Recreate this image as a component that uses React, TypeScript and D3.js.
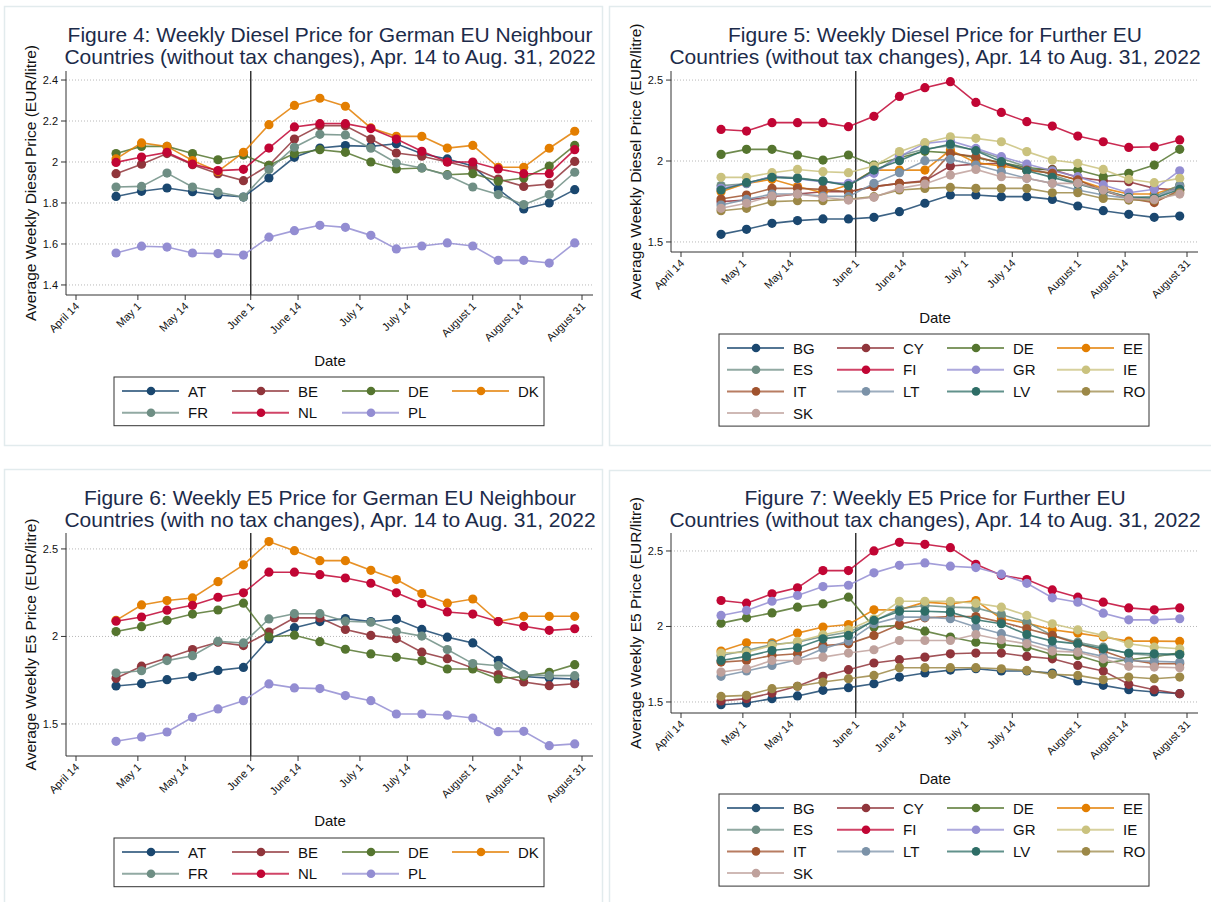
import React from "react"
import * as d3 from "d3"

const FONT = '"Liberation Sans", Arial, Helvetica, sans-serif'

// weekly observations (Mondays)
const weeks = ["2022-04-25", "2022-05-02", "2022-05-09", "2022-05-16", "2022-05-23", "2022-05-30",
    "2022-06-06", "2022-06-13", "2022-06-20", "2022-06-27", "2022-07-04", "2022-07-11", "2022-07-18",
    "2022-07-25", "2022-08-01", "2022-08-08", "2022-08-15", "2022-08-22", "2022-08-29"]

const tickDates = ["2022-04-14", "2022-05-01", "2022-05-14", "2022-06-01", "2022-06-14", "2022-07-01",
    "2022-07-14", "2022-08-01", "2022-08-14", "2022-08-31"]
const tickLabels = ["April 14", "May 1", "May 14", "June 1", "June 14", "July 1", "July 14",
    "August 1", "August 14", "August 31"]
const cutDate = "2022-06-01"

// Stata s2color palette
const palette = ["#1a476f", "#90353b", "#55752f", "#e37e00", "#6e8e84", "#c10534", "#938dd2",
    "#cac27e", "#a0522d", "#7b92a8", "#2d6d66", "#9c8847", "#bfa19c"]

const neighbourCodes = ["AT", "BE", "DE", "DK", "FR", "NL", "PL"]
const furtherCodes = ["BG", "CY", "DE", "EE", "ES", "FI", "GR", "IE", "IT", "LT", "LV", "RO", "SK"]

// Figure 4: diesel, neighbours
const dieselAT = [1.832, 1.857, 1.873, 1.855, 1.839, 1.829, 1.922, 2.023, 2.068, 2.080, 2.076, 2.089, 2.040, 2.015, 1.980, 1.868, 1.771, 1.800, 1.865]
const dieselBE = [1.943, 1.989, 2.041, 1.987, 1.943, 1.909, 1.984, 2.112, 2.177, 2.177, 2.112, 2.044, 2.028, 2.000, 1.971, 1.917, 1.881, 1.893, 2.003]
const dieselDE = [2.041, 2.076, 2.076, 2.041, 2.011, 2.034, 1.984, 2.041, 2.060, 2.047, 2.000, 1.966, 1.971, 1.938, 1.943, 1.906, 1.922, 1.980, 2.081]
const dieselDK = [2.015, 2.093, 2.076, 2.007, 1.954, 2.047, 2.182, 2.276, 2.311, 2.272, 2.166, 2.125, 2.125, 2.068, 2.081, 1.974, 1.974, 2.067, 2.150]
const dieselFR = [1.878, 1.881, 1.946, 1.878, 1.852, 1.829, 1.963, 2.072, 2.135, 2.132, 2.067, 1.995, 1.971, 1.935, 1.878, 1.841, 1.792, 1.841, 1.950]
const dieselNL = [1.998, 2.024, 2.047, 1.990, 1.958, 1.964, 2.068, 2.171, 2.187, 2.187, 2.163, 2.112, 2.052, 2.000, 2.000, 1.966, 1.943, 1.943, 2.060]
const dieselPL = [1.556, 1.589, 1.585, 1.556, 1.553, 1.546, 1.633, 1.665, 1.691, 1.681, 1.642, 1.576, 1.590, 1.605, 1.590, 1.520, 1.520, 1.507, 1.605]

// Figure 5: diesel, further countries
const dieselBG = [1.547, 1.578, 1.615, 1.632, 1.642, 1.642, 1.652, 1.687, 1.739, 1.790, 1.790, 1.780, 1.780, 1.763, 1.722, 1.693, 1.671, 1.652, 1.660]
const dieselCY = [1.749, 1.759, 1.780, 1.796, 1.810, 1.810, 1.842, 1.862, 1.878, 1.969, 1.981, 1.986, 1.948, 1.948, 1.899, 1.878, 1.872, 1.831, 1.821]
const dieselDE2 = [2.041, 2.072, 2.072, 2.037, 2.006, 2.037, 1.975, 2.020, 2.060, 2.050, 2.020, 1.990, 1.960, 1.944, 1.944, 1.903, 1.924, 1.975, 2.072]
const dieselEE = [1.810, 1.862, 1.887, 1.842, 1.804, 1.852, 1.944, 1.944, 1.944, 2.068, 1.990, 1.969, 1.944, 1.924, 1.883, 1.831, 1.796, 1.796, 1.846]
const dieselES = [1.848, 1.860, 1.905, 1.897, 1.876, 1.852, 1.930, 2.033, 2.074, 2.095, 2.068, 2.016, 1.965, 1.913, 1.862, 1.821, 1.776, 1.780, 1.852]
const dieselFI = [2.195, 2.185, 2.237, 2.237, 2.237, 2.212, 2.276, 2.399, 2.453, 2.490, 2.362, 2.300, 2.243, 2.216, 2.154, 2.119, 2.084, 2.088, 2.130]
const dieselGR = [1.831, 1.862, 1.905, 1.890, 1.870, 1.862, 1.924, 2.027, 2.109, 2.125, 2.078, 2.027, 1.981, 1.940, 1.903, 1.852, 1.804, 1.825, 1.940]
const dieselIE = [1.899, 1.899, 1.928, 1.948, 1.934, 1.928, 1.969, 2.058, 2.113, 2.150, 2.140, 2.119, 2.058, 2.006, 1.986, 1.948, 1.887, 1.866, 1.893]
const dieselIT = [1.765, 1.790, 1.831, 1.831, 1.825, 1.810, 1.842, 1.862, 1.872, 2.047, 2.027, 1.986, 1.944, 1.924, 1.883, 1.817, 1.769, 1.743, 1.821]
const dieselLT = [1.728, 1.763, 1.796, 1.796, 1.784, 1.780, 1.862, 1.928, 2.002, 2.010, 1.975, 1.934, 1.893, 1.862, 1.821, 1.790, 1.769, 1.769, 1.842]
const dieselLV = [1.821, 1.866, 1.899, 1.893, 1.876, 1.848, 1.944, 2.002, 2.068, 2.105, 2.064, 1.996, 1.940, 1.899, 1.858, 1.817, 1.776, 1.769, 1.825]
const dieselRO = [1.693, 1.708, 1.749, 1.755, 1.755, 1.763, 1.780, 1.821, 1.831, 1.837, 1.831, 1.831, 1.831, 1.804, 1.804, 1.769, 1.759, 1.759, 1.804]
const dieselSK = [1.708, 1.739, 1.784, 1.796, 1.776, 1.759, 1.776, 1.831, 1.858, 1.913, 1.948, 1.903, 1.893, 1.862, 1.862, 1.821, 1.769, 1.763, 1.796]

// Figure 6: E5, neighbours
const e5AT = [1.717, 1.730, 1.753, 1.771, 1.806, 1.823, 1.986, 2.050, 2.085, 2.102, 2.085, 2.098, 2.040, 1.996, 1.963, 1.864, 1.771, 1.762, 1.757]
const e5BE = [1.761, 1.830, 1.877, 1.925, 1.967, 1.948, 2.025, 2.106, 2.106, 2.040, 2.006, 1.988, 1.910, 1.873, 1.820, 1.782, 1.740, 1.719, 1.730]
const e5DE = [2.028, 2.056, 2.092, 2.128, 2.151, 2.190, 1.998, 2.007, 1.970, 1.927, 1.900, 1.881, 1.862, 1.814, 1.814, 1.757, 1.772, 1.795, 1.839]
const e5DK = [2.092, 2.180, 2.205, 2.220, 2.313, 2.409, 2.542, 2.490, 2.433, 2.433, 2.378, 2.325, 2.245, 2.190, 2.214, 2.085, 2.115, 2.115, 2.115]
const e5FR = [1.791, 1.804, 1.862, 1.890, 1.972, 1.963, 2.100, 2.130, 2.130, 2.087, 2.081, 2.028, 2.002, 1.925, 1.845, 1.833, 1.782, 1.776, 1.776]
const e5NL = [2.087, 2.111, 2.150, 2.178, 2.224, 2.249, 2.367, 2.367, 2.353, 2.334, 2.304, 2.249, 2.188, 2.140, 2.128, 2.085, 2.058, 2.035, 2.044]
const e5PL = [1.401, 1.426, 1.454, 1.538, 1.586, 1.633, 1.729, 1.706, 1.702, 1.662, 1.633, 1.557, 1.557, 1.550, 1.534, 1.456, 1.458, 1.376, 1.386]

// Figure 7: E5, further countries
const e5BG = [1.482, 1.493, 1.522, 1.540, 1.577, 1.595, 1.621, 1.665, 1.692, 1.711, 1.720, 1.705, 1.705, 1.692, 1.639, 1.610, 1.581, 1.566, 1.555]
const e5CY = [1.507, 1.522, 1.559, 1.604, 1.670, 1.714, 1.758, 1.780, 1.797, 1.819, 1.824, 1.824, 1.802, 1.786, 1.742, 1.705, 1.617, 1.581, 1.555]
const e5DE2 = [2.022, 2.057, 2.090, 2.128, 2.150, 2.194, 1.996, 2.007, 1.969, 1.930, 1.896, 1.881, 1.863, 1.815, 1.808, 1.758, 1.780, 1.800, 1.825]
const e5EE = [1.837, 1.892, 1.892, 1.956, 1.996, 2.013, 2.110, 2.110, 2.161, 2.150, 2.172, 2.051, 2.022, 1.978, 1.956, 1.930, 1.903, 1.903, 1.901]
const e5ES = [1.808, 1.841, 1.881, 1.896, 1.934, 1.963, 2.035, 2.117, 2.139, 2.128, 2.123, 2.079, 2.029, 1.941, 1.896, 1.863, 1.819, 1.808, 1.815]
const e5FI = [2.172, 2.154, 2.216, 2.256, 2.370, 2.370, 2.500, 2.557, 2.544, 2.522, 2.412, 2.339, 2.311, 2.242, 2.194, 2.161, 2.123, 2.110, 2.123]
const e5GR = [2.073, 2.106, 2.167, 2.205, 2.264, 2.273, 2.355, 2.405, 2.421, 2.399, 2.390, 2.346, 2.286, 2.190, 2.161, 2.088, 2.044, 2.044, 2.051]
const e5IE = [1.824, 1.830, 1.874, 1.901, 1.945, 1.978, 2.051, 2.167, 2.167, 2.167, 2.154, 2.128, 2.073, 2.018, 1.978, 1.941, 1.885, 1.863, 1.852]
const e5IT = [1.764, 1.775, 1.808, 1.819, 1.874, 1.885, 1.941, 2.013, 2.057, 2.066, 2.066, 2.029, 1.985, 1.941, 1.885, 1.837, 1.780, 1.753, 1.753]
const e5LT = [1.670, 1.705, 1.742, 1.780, 1.852, 1.903, 2.018, 2.062, 2.062, 2.051, 1.996, 1.952, 1.907, 1.863, 1.837, 1.802, 1.775, 1.769, 1.764]
const e5LV = [1.775, 1.802, 1.841, 1.859, 1.918, 1.941, 2.040, 2.101, 2.101, 2.095, 2.044, 2.018, 1.947, 1.903, 1.885, 1.852, 1.824, 1.819, 1.815]
const e5RO = [1.537, 1.544, 1.588, 1.604, 1.632, 1.654, 1.676, 1.727, 1.727, 1.727, 1.727, 1.720, 1.709, 1.683, 1.676, 1.648, 1.665, 1.654, 1.665]
const e5SK = [1.698, 1.720, 1.775, 1.775, 1.797, 1.824, 1.846, 1.907, 1.907, 1.907, 1.947, 1.912, 1.885, 1.837, 1.830, 1.786, 1.736, 1.731, 1.727]

const parse = d3.timeParse("%Y-%m-%d")
const dates = weeks.map(parse)

function Panel(props) {
    const { ox, frame, title, titleY, yLabel, codes, values, yDomain, yTicks, plotTop, plotBottom, dateY, legendTop } = props
    const left = ox + 66
    const right = ox + 593
    const x = d3.scaleTime()
        .domain([parse(tickDates[0]), parse(tickDates[tickDates.length - 1])])
        .range([ox + 76, ox + 582])
    const y = d3.scaleLinear().domain(yDomain).range([plotBottom, plotTop])
    const line = d3.line().x((d, i) => x(dates[i])).y(d => y(d))
    const cx = ox + 330

    const rows = Math.ceil(codes.length / 4)
    const rowGap = 21.7
    const legLeft = ox + 114
    const legHeight = 27 + (rows - 1) * rowGap

    return (
        <g>
            <rect x={frame[0]} y={frame[1]} width={frame[2]} height={frame[3]} fill="#fff" stroke="#e2ebed" strokeWidth="1.5" />
            {title.map((t, i) => (
                <text key={i} x={cx} y={titleY[i]} textAnchor="middle" fontSize="21" fill="#1c2b4a">{t}</text>
            ))}
            <text transform={"translate(" + (ox + 36) + "," + (plotTop + plotBottom) / 2 + ") rotate(-90)"}
                textAnchor="middle" fontSize="15.5" fill="#111">{yLabel}</text>

            {/* grid and y axis */}
            {yTicks.map(t => (
                <g key={t}>
                    <line x1={left} x2={right} y1={y(t)} y2={y(t)} stroke="#b8b8b8" strokeWidth="1" strokeDasharray="1 2" />
                    <line x1={left - 5} x2={left} y1={y(t)} y2={y(t)} stroke="#333" />
                    <text x={left - 8} y={y(t) + 4} textAnchor="end" fontSize="11" fill="#111">{t}</text>
                </g>
            ))}
            <line x1={left} x2={left} y1={plotTop} y2={plotBottom} stroke="#333" />
            <line x1={left} x2={right} y1={plotBottom} y2={plotBottom} stroke="#333" />
            {tickDates.map((d, i) => {
                const tx = x(parse(d))
                return (
                    <g key={d}>
                        <line x1={tx} x2={tx} y1={plotBottom} y2={plotBottom + 5} stroke="#333" />
                        <text transform={"translate(" + (tx + 4) + "," + (plotBottom + 12) + ") rotate(-45)"}
                            textAnchor="end" fontSize="11" fill="#111">{tickLabels[i]}</text>
                    </g>
                )
            })}
            <line x1={x(parse(cutDate))} x2={x(parse(cutDate))} y1={plotTop} y2={plotBottom} stroke="#333" strokeWidth="1.5" />

            {/* series */}
            {values.map((v, k) => (
                <g key={codes[k]}>
                    <path d={line(v)} fill="none" stroke={palette[k]} strokeWidth="1.6" strokeOpacity="0.85" />
                    {v.map((val, i) => (
                        <circle key={i} cx={x(dates[i])} cy={y(val)} r="4.6" fill={palette[k]} />
                    ))}
                </g>
            ))}

            <text x={cx} y={dateY} textAnchor="middle" fontSize="15" fill="#111">Date</text>

            {/* legend */}
            <rect x={legLeft} y={legendTop} width={430} height={legHeight} fill="#fff" stroke="#333" strokeWidth="1" />
            {codes.map((c, k) => {
                const mx = legLeft + 37 + (k % 4) * 110
                const my = legendTop + 14 + Math.floor(k / 4) * rowGap
                return (
                    <g key={c}>
                        <line x1={mx - 29} x2={mx + 28} y1={my} y2={my} stroke={palette[k]} strokeWidth="2" strokeOpacity="0.75" />
                        <circle cx={mx} cy={my} r="4.3" fill={palette[k]} />
                        <text x={mx + 37} y={my + 5.5} fontSize="15" fill="#111">{c}</text>
                    </g>
                )
            })}
        </g>
    )
}

export default function App() {
    return (
        <svg width={1211} height={902} style={{ position: "absolute", left: 0, top: 0, fontFamily: FONT }}>
            <rect width={1211} height={902} fill="#fff" />
            <Panel
                ox={0} frame={[4.5, 6.5, 598, 439]}
                title={["Figure 4: Weekly Diesel Price for German EU Neighbour", "Countries (without tax changes), Apr. 14 to Aug. 31, 2022"]}
                titleY={[42, 64]}
                yLabel="Average Weekly Diesel Price (EUR/litre)"
                codes={neighbourCodes}
                values={[dieselAT, dieselBE, dieselDE, dieselDK, dieselFR, dieselNL, dieselPL]}
                yDomain={[1.351, 2.444]} yTicks={[1.4, 1.6, 1.8, 2, 2.2, 2.4]}
                plotTop={71} plotBottom={295} dateY={366} legendTop={377}
            />
            <Panel
                ox={605} frame={[609.5, 6.5, 610, 439]}
                title={["Figure 5: Weekly Diesel Price for Further EU", "Countries (without tax changes), Apr. 14 to Aug. 31, 2022"]}
                titleY={[42, 64]}
                yLabel="Average Weekly Diesel Price (EUR/litre)"
                codes={furtherCodes}
                values={[dieselBG, dieselCY, dieselDE2, dieselEE, dieselES, dieselFI, dieselGR, dieselIE, dieselIT, dieselLT, dieselLV, dieselRO, dieselSK]}
                yDomain={[1.438, 2.556]} yTicks={[1.5, 2, 2.5]}
                plotTop={71} plotBottom={252} dateY={323} legendTop={334}
            />
            <Panel
                ox={0} frame={[4.5, 469.5, 598, 445]}
                title={["Figure 6: Weekly E5 Price for German EU Neighbour", "Countries (with no tax changes), Apr. 14 to Aug. 31, 2022"]}
                titleY={[505, 527]}
                yLabel="Average Weekly E5 Price (EUR/litre)"
                codes={neighbourCodes}
                values={[e5AT, e5BE, e5DE, e5DK, e5FR, e5NL, e5PL]}
                yDomain={[1.317, 2.591]} yTicks={[1.5, 2, 2.5]}
                plotTop={533} plotBottom={756} dateY={826} legendTop={838}
            />
            <Panel
                ox={605} frame={[609.5, 470.5, 610, 445]}
                title={["Figure 7: Weekly E5 Price for Further EU", "Countries (without tax changes), Apr. 14 to Aug. 31, 2022"]}
                titleY={[505, 527]}
                yLabel="Average Weekly E5 Price (EUR/litre)"
                codes={furtherCodes}
                values={[e5BG, e5CY, e5DE2, e5EE, e5ES, e5FI, e5GR, e5IE, e5IT, e5LT, e5LV, e5RO, e5SK]}
                yDomain={[1.427, 2.619]} yTicks={[1.5, 2, 2.5]}
                plotTop={533} plotBottom={713} dateY={784} legendTop={794}
            />
        </svg>
    )
}
